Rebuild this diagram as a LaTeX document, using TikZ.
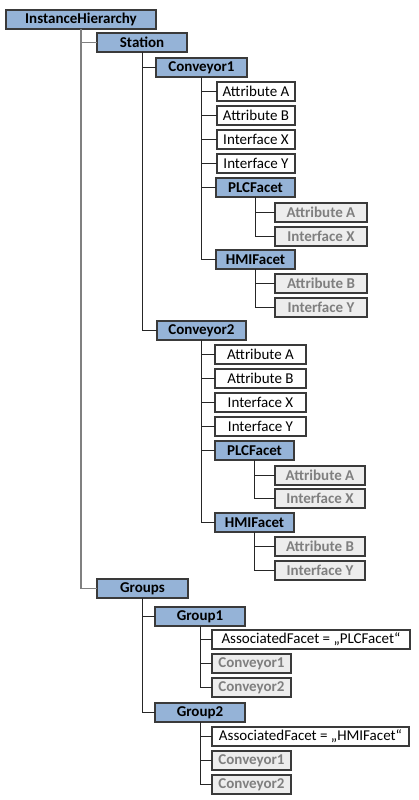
\documentclass[tikz,border=0pt]{standalone}
\usepackage{fontspec}
\setmainfont{Carlito}
\definecolor{bluefill}{HTML}{95B3D7}
\definecolor{grayfill}{HTML}{EDEDED}
\definecolor{graytext}{HTML}{7F7F7F}
\definecolor{boxline}{HTML}{3A3A3A}
\definecolor{linkdark}{HTML}{262626}
\definecolor{linkgray}{HTML}{808080}
\newcommand{\bx}[7]{\node[#2, minimum width={(#5-#3)*1pt}, minimum height={(#6-#4)*1pt}] (#1) at ({(#3+#5)/2},{(#4+#6)/2}) {#7};}
\begin{document}
\begin{tikzpicture}[x=1pt,y=-1pt,
  base/.style={draw=boxline, line width=1.2pt, inner sep=0pt, outer sep=0pt, font=\fontsize{15}{17}\selectfont},
  bluebox/.style={base, fill=bluefill, font=\fontsize{15}{17}\selectfont\bfseries},
  whitebox/.style={base, fill=white},
  graybox/.style={base, fill=grayfill, text=graytext, font=\fontsize{15}{17}\selectfont\bfseries},
  link/.style={draw=linkdark, line width=1pt},
  toplink/.style={draw=linkgray, line width=1.6pt}]
\useasboundingbox (0,0) rectangle (418,800);
% nodes
\bx{ih}{bluebox}{6}{10}{156}{29}{InstanceHierarchy}
\bx{st}{bluebox}{97}{33}{187}{52}{Station}
\bx{c1}{bluebox}{156}{58}{247}{77}{Conveyor1}
\bx{c1a}{whitebox}{217}{82}{295}{101}{Attribute A}
\bx{c1b}{whitebox}{217}{106}{295}{125}{Attribute B}
\bx{c1x}{whitebox}{217}{130}{295}{149}{Interface X}
\bx{c1y}{whitebox}{217}{154}{295}{173}{Interface Y}
\bx{c1p}{bluebox}{216}{178}{295}{197}{PLCFacet}
\bx{c1pa}{graybox}{275}{203}{367}{222}{Attribute A}
\bx{c1px}{graybox}{275}{227}{367}{246}{Interface X}
\bx{c1h}{bluebox}{216}{250}{295}{269}{HMIFacet}
\bx{c1ha}{graybox}{275}{274}{367}{293}{Attribute B}
\bx{c1hy}{graybox}{275}{298}{367}{317}{Interface Y}
\bx{c2}{bluebox}{157}{321}{246}{340}{Conveyor2}
\bx{c2a}{whitebox}{215}{345}{306}{364}{Attribute A}
\bx{c2b}{whitebox}{215}{369}{306}{388}{Attribute B}
\bx{c2x}{whitebox}{215}{393}{306}{412}{Interface X}
\bx{c2y}{whitebox}{215}{417}{306}{436}{Interface Y}
\bx{c2p}{bluebox}{215}{441}{294}{460}{PLCFacet}
\bx{c2pa}{graybox}{275}{466}{365}{485}{Attribute A}
\bx{c2px}{graybox}{275}{489}{365}{508}{Interface X}
\bx{c2h}{bluebox}{215}{513}{294}{532}{HMIFacet}
\bx{c2ha}{graybox}{275}{537}{365}{556}{Attribute B}
\bx{c2hy}{graybox}{275}{561}{365}{580}{Interface Y}
\bx{gr}{bluebox}{97}{579}{188}{598}{Groups}
\bx{g1}{bluebox}{155}{607}{245}{626}{Group1}
\bx{g1f}{whitebox}{212}{630}{410}{649}{AssociatedFacet = „PLCFacet“}
\bx{g1c1}{graybox}{212}{654}{291}{673}{Conveyor1}
\bx{g1c2}{graybox}{212}{678}{291}{697}{Conveyor2}
\bx{g2}{bluebox}{155}{703}{245}{722}{Group2}
\bx{g2f}{whitebox}{212}{727}{409}{746}{AssociatedFacet = „HMIFacet“}
\bx{g2c1}{graybox}{212}{751}{291}{770}{Conveyor1}
\bx{g2c2}{graybox}{212}{775}{291}{794}{Conveyor2}
% connectors
\foreach \c in {st,gr} \draw[toplink] (ih.south) |- (\c.west);
\foreach \c in {c1,c2} \draw[link] (st.south) |- (\c.west);
\foreach \c in {c1a,c1b,c1x,c1y,c1p,c1h} \draw[link] (c1.south) |- (\c.west);
\foreach \c in {c1pa,c1px} \draw[link] (c1p.south) |- (\c.west);
\foreach \c in {c1ha,c1hy} \draw[link] (c1h.south) |- (\c.west);
\foreach \c in {c2a,c2b,c2x,c2y,c2p,c2h} \draw[link] (c2.south) |- (\c.west);
\foreach \c in {c2pa,c2px} \draw[link] (c2p.south) |- (\c.west);
\foreach \c in {c2ha,c2hy} \draw[link] (c2h.south) |- (\c.west);
\foreach \c in {g1,g2} \draw[link] (gr.south) |- (\c.west);
\foreach \c in {g1f,g1c1,g1c2} \draw[link] (g1.south) |- (\c.west);
\foreach \c in {g2f,g2c1,g2c2} \draw[link] (g2.south) |- (\c.west);
\end{tikzpicture}
\end{document}
